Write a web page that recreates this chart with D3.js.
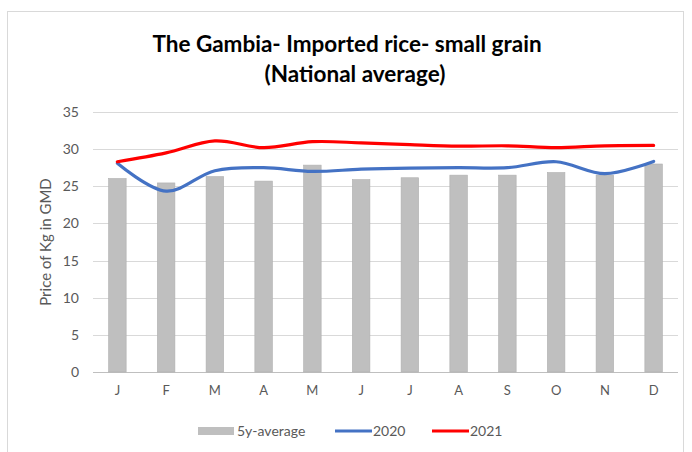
<!DOCTYPE html>
<html>
<head>
<meta charset="utf-8">
<script src="https://cdn.jsdelivr.net/npm/d3@7"></script>
<style>
  body { margin: 0; background: #fff; }
  text { font-family: Lato, "Open Sans", sans-serif; }
</style>
</head>
<body>
<div id="main"></div>
<script>
// data
const months = ['J', 'F', 'M', 'A', 'M', 'J', 'J', 'A', 'S', 'O', 'N', 'D'];
const avg5y = [26.05, 25.45, 26.3, 25.7, 27.85, 25.9, 26.15, 26.5, 26.5, 26.85, 26.5, 28.0];
const y2020 = [28.1, 24.35, 27.1, 27.5, 27.0, 27.3, 27.45, 27.5, 27.5, 28.3, 26.7, 28.35];
const y2021 = [28.3, 29.5, 31.1, 30.2, 31.0, 30.85, 30.6, 30.4, 30.45, 30.2, 30.45, 30.5];
const yTicks = [0, 5, 10, 15, 20, 25, 30, 35];

const width = 692;
const height = 452;
const margin = { top: 112, right: 14, bottom: 80, left: 93 };
const chartWidth = width - margin.left - margin.right;
const chartHeight = height - margin.top - margin.bottom;

const colors = { bar: '#BFBFBF', blue: '#4472C4', red: '#FF0000', grid: '#D9D9D9', text: '#595959' };

const keys = months.map((m, i) => i);

const svg = d3.select('#main')
  .append('svg')
  .attr('width', width)
  .attr('height', height);

// outer chart border
svg.append('rect')
  .attr('x', 7.5).attr('y', 11.5)
  .attr('width', 676).attr('height', 460)
  .attr('fill', 'none')
  .attr('stroke', '#D9D9D9');

const xScale = d3.scaleBand()
  .domain(keys)
  .range([0, chartWidth])
  .paddingInner(0.64)
  .paddingOuter(0.32);

const yScale = d3.scaleLinear()
  .domain([0, 35])
  .range([chartHeight, 0]);

const g = svg.append('g')
  .attr('transform', `translate(${margin.left}, ${margin.top})`);

// gridlines
g.append('g')
  .selectAll('line')
  .data(yTicks)
  .enter()
  .append('line')
  .attr('x1', 0)
  .attr('x2', chartWidth)
  .attr('y1', (d) => Math.round(yScale(d)) + 0.5)
  .attr('y2', (d) => Math.round(yScale(d)) + 0.5)
  .attr('stroke', (d) => d === 0 ? '#BFBFBF' : colors.grid)
  .attr('stroke-width', 1);

// y axis labels
const yAxis = g.append('g')
  .call(d3.axisLeft(yScale).tickValues(yTicks).tickSize(0).tickPadding(14));
yAxis.select('.domain').remove();
yAxis.selectAll('text')
  .attr('fill', colors.text)
  .style('font-size', '14px');

// x axis labels
const xAxis = g.append('g')
  .attr('transform', `translate(0, ${chartHeight})`)
  .call(d3.axisBottom(xScale).tickFormat((i) => months[i]).tickSize(0).tickPadding(14));
xAxis.select('.domain').remove();
xAxis.selectAll('text')
  .attr('fill', colors.text)
  .style('font-size', '13px');

// bars
g.append('g').selectAll('rect')
  .data(avg5y)
  .enter()
  .append('rect')
  .attr('x', (d, i) => xScale(i))
  .attr('y', (d) => yScale(d))
  .attr('width', xScale.bandwidth())
  .attr('height', (d) => chartHeight - yScale(d))
  .attr('fill', colors.bar)
  .attr('stroke', '#B0B0B0')
  .attr('stroke-width', 0.6);

// smoothed lines
const line = d3.line()
  .x((d, i) => xScale(i) + xScale.bandwidth() / 2)
  .y((d) => yScale(d))
  .curve(d3.curveCatmullRom.alpha(0.5));

g.append('path')
  .datum(y2020)
  .attr('fill', 'none')
  .attr('stroke', colors.blue)
  .attr('stroke-width', 3.2)
  .attr('stroke-linecap', 'round')
  .attr('d', line);

g.append('path')
  .datum(y2021)
  .attr('fill', 'none')
  .attr('stroke', colors.red)
  .attr('stroke-width', 3.2)
  .attr('stroke-linecap', 'round')
  .attr('d', line);

// title
const title = svg.append('text')
  .attr('text-anchor', 'middle')
  .attr('fill', '#000')
  .style('font-size', '22.5px')
  .style('font-weight', 'bold');
title.append('tspan').attr('x', 347).attr('y', 52).text('The Gambia-  Imported rice- small grain');
title.append('tspan').attr('x', 355).attr('y', 82).text('(National average)');

// y axis title
svg.append('text')
  .attr('transform', 'translate(51, 242) rotate(-90)')
  .attr('text-anchor', 'middle')
  .attr('fill', colors.text)
  .style('font-size', '15px')
  .text('Price of Kg in GMD');

// legend
const legend = svg.append('g').attr('transform', 'translate(0, 431)');
legend.append('rect')
  .attr('x', 198).attr('y', -4)
  .attr('width', 36).attr('height', 8)
  .attr('fill', colors.bar);
legend.append('text')
  .attr('x', 237).attr('y', 5)
  .attr('fill', colors.text)
  .style('font-size', '14px')
  .text('5y-average');

const legendLines = [
  { x: 335, color: colors.blue, label: '2020' },
  { x: 432, color: colors.red, label: '2021' }
];
legendLines.forEach((d) => {
  legend.append('line')
    .attr('x1', d.x).attr('x2', d.x + 37)
    .attr('y1', 0).attr('y2', 0)
    .attr('stroke', d.color)
    .attr('stroke-width', 3);
  legend.append('text')
    .attr('x', d.x + 38).attr('y', 5)
    .attr('fill', colors.text)
    .style('font-size', '14px')
    .text(d.label);
});
</script>
</body>
</html>
